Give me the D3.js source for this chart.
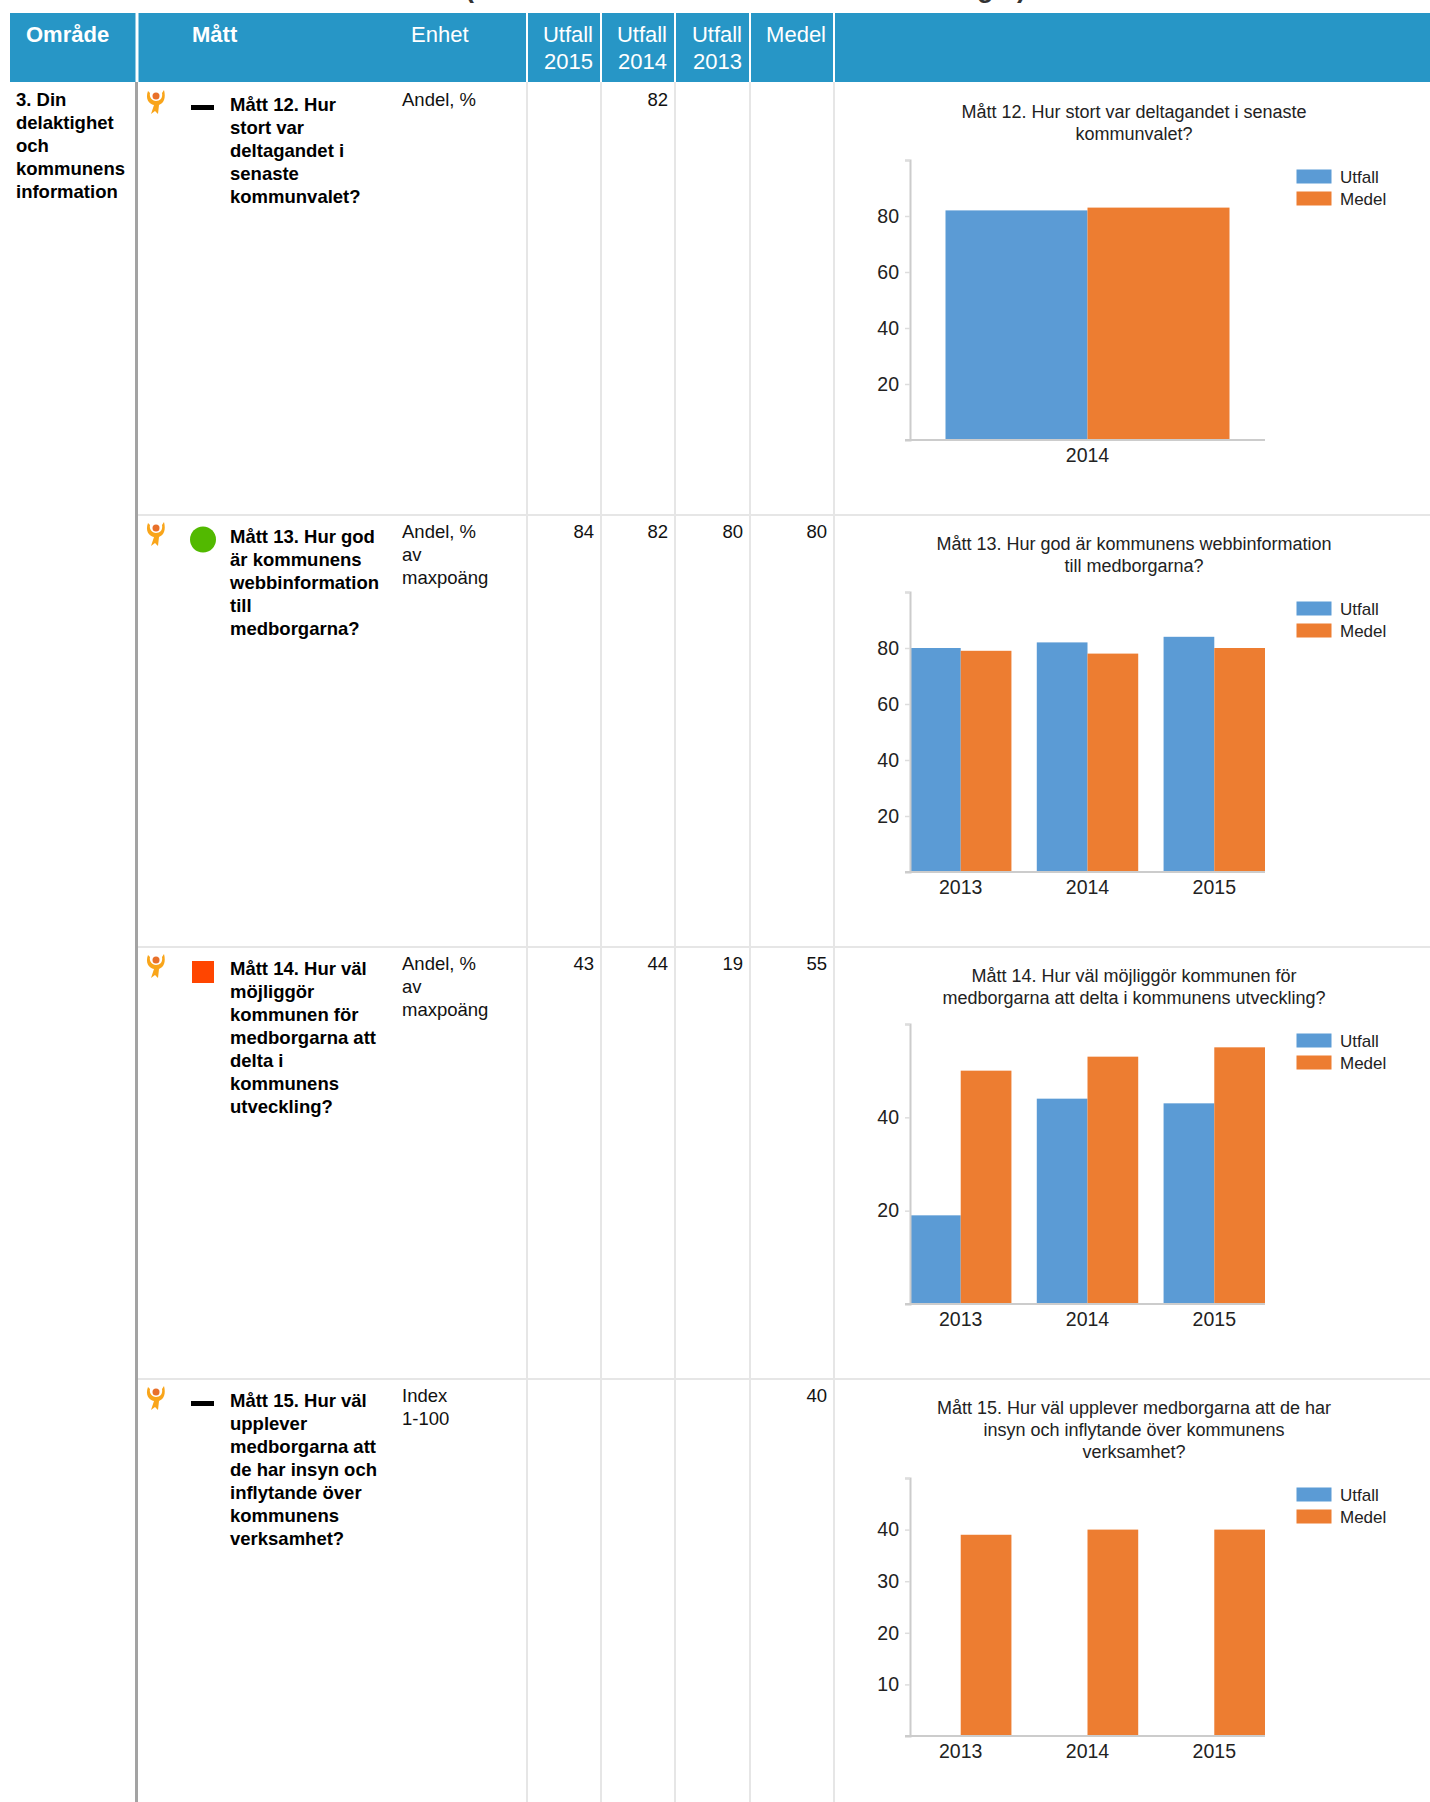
<!DOCTYPE html>
<html>
<head>
<meta charset="utf-8">
<script src="https://cdnjs.cloudflare.com/ajax/libs/d3/7.8.5/d3.min.js"></script>
<style>
  html, body { margin: 0; padding: 0; background: #fff; }
  svg { display: block; font-family: "Liberation Sans", Arial, sans-serif; }
  .tick text { font-family: "Liberation Sans", Arial, sans-serif; }
</style>
</head>
<body>
<div id="chart"></div>
<script>
// table text
var headers = ["Utfall 2015", "Utfall 2014", "Utfall 2013", "Medel"];
var area = ["3. Din", "delaktighet", "och", "kommunens", "information"];
var measures = [
    ["Mått 12. Hur", "stort var", "deltagandet i", "senaste", "kommunvalet?"],
    ["Mått 13. Hur god", "är kommunens", "webbinformation", "till", "medborgarna?"],
    ["Mått 14. Hur väl", "möjliggör", "kommunen för", "medborgarna att", "delta i", "kommunens", "utveckling?"],
    ["Mått 15. Hur väl", "upplever", "medborgarna att", "de har insyn och", "inflytande över", "kommunens", "verksamhet?"]
];
var units = [
    ["Andel, %"],
    ["Andel, %", "av", "maxpoäng"],
    ["Andel, %", "av", "maxpoäng"],
    ["Index", "1-100"]
];
var statuses = ["dash", "circle", "square", "dash"];
// columns: Utfall 2015, Utfall 2014, Utfall 2013, Medel
var cellValues = [
    [null, 82, null, null],
    [84, 82, 80, 80],
    [43, 44, 19, 55],
    [null, null, null, 40]
];

// chart data
var chartTitles = [
    ["Mått 12. Hur stort var deltagandet i senaste", "kommunvalet?"],
    ["Mått 13. Hur god är kommunens webbinformation", "till medborgarna?"],
    ["Mått 14. Hur väl möjliggör kommunen för", "medborgarna att delta i kommunens utveckling?"],
    ["Mått 15. Hur väl upplever medborgarna att de har", "insyn och inflytande över kommunens", "verksamhet?"]
];
var chartYears = [
    ["2014"],
    ["2013", "2014", "2015"],
    ["2013", "2014", "2015"],
    ["2013", "2014", "2015"]
];
var utfall = [
    [82],
    [80, 82, 84],
    [19, 44, 43],
    [null, null, null]
];
var medel = [
    [83],
    [79, 78, 80],
    [50, 53, 55],
    [39, 40, 40]
];
var yMax = [100, 100, 60, 50];
var yTicks = [
    [20, 40, 60, 80],
    [20, 40, 60, 80],
    [20, 40],
    [10, 20, 30, 40]
];
var legendNames = ["Utfall", "Medel"];

var svgWidth = 1430;
var svgHeight = 1802;
var blue = "#5b9bd5";
var orange = "#ed7d31";
var headerColor = "#2796c6";
var lineColor = "#e6e6e6";
var rowTop = [83, 515, 947, 1379];
var colLines = [527, 601, 675, 750, 834];

var svg = d3.select("#chart").append("svg")
    .attr("width", svgWidth)
    .attr("height", svgHeight);

// bits of the cropped page title above the table
svg.append("text").attr("x", 465).attr("y", -3).attr("font-size", 27).attr("font-weight", "bold").attr("fill", "#333").text("(");
svg.append("text").attr("x", 977).attr("y", -3).attr("font-size", 27).attr("font-weight", "bold").attr("fill", "#333").text("g");
svg.append("text").attr("x", 1017).attr("y", -3).attr("font-size", 27).attr("font-weight", "bold").attr("fill", "#333").text(")");

function DrawHeader() {
    svg.append("rect").attr("x", 10).attr("y", 13).attr("width", svgWidth - 10).attr("height", 69).attr("fill", headerColor);

    var seps = [136.5].concat(colLines);
    svg.selectAll(".headsep").data(seps).enter().append("rect")
        .attr("x", d => d - 1)
        .attr("y", 13)
        .attr("width", (d, i) => i == 0 ? 3 : 2)
        .attr("height", 69)
        .attr("fill", "#fff");

    var head = svg.append("g").attr("fill", "#fff").attr("font-size", 22);
    head.append("text").attr("x", 26).attr("y", 42).attr("font-weight", "bold").text("Område");
    head.append("text").attr("x", 192).attr("y", 42).attr("font-weight", "bold").text("Mått");
    head.append("text").attr("x", 411).attr("y", 42).text("Enhet");

    headers.forEach(function(h, i) {
        var parts = h.split(" ");
        parts.forEach(function(p, j) {
            head.append("text")
                .attr("x", colLines[i + 1] - 8)
                .attr("y", 42 + j * 27)
                .attr("text-anchor", "end")
                .text(p);
        });
    });
}

function DrawGrid() {
    svg.append("rect").attr("x", 135).attr("y", 82).attr("width", 3).attr("height", svgHeight - 82).attr("fill", "#a3a3a3");
    svg.selectAll(".vline").data(colLines).enter().append("rect")
        .attr("x", d => d - 1)
        .attr("y", 82)
        .attr("width", 2)
        .attr("height", svgHeight - 82)
        .attr("fill", lineColor);
    svg.selectAll(".hline").data(rowTop.slice(1)).enter().append("rect")
        .attr("x", 138)
        .attr("y", d => d - 1)
        .attr("width", svgWidth - 138)
        .attr("height", 2)
        .attr("fill", lineColor);
}

function DrawIcon(g) {
    // small orange figure with raised arms
    g.append("path")
        .attr("d", "M-8,-11 C-11,-3 -7,2 -2,3 L-5,12 L-1,9 L2,12 L3,3 C8,1 10,-4 8,-12 L6,-9 C7,-4 4,-1 0,-1 C-4,-1 -7,-5 -6,-9 Z")
        .attr("fill", "#f9a51a");
    g.append("circle").attr("cx", 0).attr("cy", -6).attr("r", 3.5).attr("fill", "#e8702a");
}

function DrawRow(i) {
    var top = rowTop[i];
    var g = svg.append("g").attr("transform", `translate(0, ${top})`);

    DrawIcon(g.append("g").attr("transform", "translate(156, 19)"));

    if (statuses[i] == "dash") {
        g.append("rect").attr("x", 191).attr("y", 22).attr("width", 23).attr("height", 5).attr("fill", "#000");
    } else if (statuses[i] == "circle") {
        g.append("circle").attr("cx", 203).attr("cy", 24.5).attr("r", 13).attr("fill", "#52b900");
    } else {
        g.append("rect").attr("x", 192).attr("y", 14).attr("width", 22).attr("height", 22).attr("fill", "#ff4500");
    }

    g.selectAll(".measure").data(measures[i]).enter().append("text")
        .attr("x", 230)
        .attr("y", (d, j) => 28 + j * 23)
        .attr("font-size", 18.5)
        .attr("font-weight", "bold")
        .attr("fill", "#000")
        .text(d => d);

    g.selectAll(".unit").data(units[i]).enter().append("text")
        .attr("x", 402)
        .attr("y", (d, j) => 23 + j * 23)
        .attr("font-size", 18.5)
        .attr("fill", "#111")
        .text(d => d);

    cellValues[i].forEach(function(v, c) {
        if (v == null) return;
        g.append("text")
            .attr("x", colLines[c + 1] - 7)
            .attr("y", 23)
            .attr("text-anchor", "end")
            .attr("font-size", 18.5)
            .attr("fill", "#111")
            .text(v);
    });
}

function DrawChart(i) {
    var lines = chartTitles[i];
    var top = rowTop[i];
    var plotTop = top + 77 + (lines.length - 2) * 22;
    var plotBottom = top + 357;
    var plotLeft = 910;
    var plotRight = 1265;
    var g = svg.append("g");

    g.selectAll(".ctitle").data(lines).enter().append("text")
        .attr("x", 1134)
        .attr("y", (d, j) => top + 35 + j * 22)
        .attr("text-anchor", "middle")
        .attr("font-size", 18)
        .attr("fill", "#222")
        .text(d => d);

    var x0 = d3.scaleBand()
        .domain(chartYears[i])
        .range([plotLeft, plotRight])
        .paddingInner(0.2)
        .paddingOuter(0);
    var x1 = d3.scaleBand()
        .domain(legendNames)
        .range([0, x0.bandwidth()]);
    var y = d3.scaleLinear()
        .domain([0, yMax[i]])
        .range([plotBottom, plotTop]);

    var rows = chartYears[i].map((yr, k) => ({ year: yr, Utfall: utfall[i][k], Medel: medel[i][k] }));

    legendNames.forEach(function(name) {
        g.selectAll(".bar" + name).data(rows.filter(d => d[name] != null)).enter().append("rect")
            .attr("x", d => x0(d.year) + x1(name))
            .attr("y", d => y(d[name]))
            .attr("width", x1.bandwidth())
            .attr("height", d => plotBottom - y(d[name]))
            .attr("fill", name == "Utfall" ? blue : orange);
    });

    var yAxis = d3.axisLeft(y).tickValues(yTicks[i].concat([yMax[i]])).tickSize(5).tickPadding(6)
        .tickFormat(d => d == yMax[i] ? "" : d);
    var yG = g.append("g").attr("transform", `translate(${plotLeft}, 0)`).call(yAxis);
    yG.select(".domain").attr("stroke", "#ccc").attr("stroke-width", 2);
    yG.selectAll(".tick line").attr("stroke", "#ddd").attr("stroke-width", 1.5);
    yG.selectAll("text").attr("font-size", 19.5).attr("fill", "#222");

    var xAxis = d3.axisBottom(x0).tickSize(0).tickPadding(8);
    var xG = g.append("g").attr("transform", `translate(0, ${plotBottom})`).call(xAxis);
    xG.select(".domain").attr("stroke", "#ccc").attr("stroke-width", 2)
        .attr("d", `M${plotLeft - 5},0H${plotRight}`);
    xG.selectAll("text").attr("font-size", 19.5).attr("fill", "#222");

    var legend = g.append("g").attr("transform", `translate(1296.5, ${plotTop + 9.5})`);
    legendNames.forEach(function(name, k) {
        legend.append("rect")
            .attr("x", 0)
            .attr("y", k * 22)
            .attr("width", 35)
            .attr("height", 14)
            .attr("fill", name == "Utfall" ? blue : orange);
        legend.append("text")
            .attr("x", 43.5)
            .attr("y", k * 22 + 13)
            .attr("font-size", 17)
            .attr("fill", "#222")
            .text(name);
    });
}

DrawHeader();
DrawGrid();

// Område cell
svg.selectAll(".area").data(area).enter().append("text")
    .attr("x", 16)
    .attr("y", (d, j) => 106 + j * 23)
    .attr("font-size", 18.5)
    .attr("font-weight", "bold")
    .attr("fill", "#000")
    .text(d => d);

measures.forEach(function(m, i) {
    DrawRow(i);
    DrawChart(i);
});
</script>
</body>
</html>
